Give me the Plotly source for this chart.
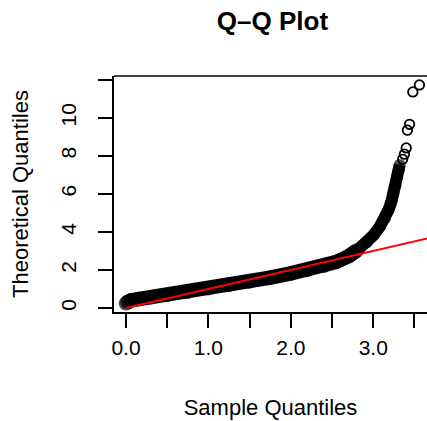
import plotly.graph_objects as go

# ---- data ----
# dense part of the Q-Q point cloud (sample quantile, theoretical quantile)
band_sample = [0.00, 0.02, 0.06, 0.15, 0.30, 0.50, 0.75, 1.00, 1.25, 1.50, 1.75, 2.00,
               2.20, 2.40, 2.55, 2.70, 2.80, 2.92, 3.00, 3.08, 3.14, 3.185, 3.22, 3.245,
               3.27, 3.29, 3.31, 3.32]
band_theoretical = [0.25, 0.32, 0.40, 0.47, 0.56, 0.69, 0.86, 1.04, 1.22, 1.40, 1.60, 1.82,
                    2.00, 2.22, 2.42, 2.72, 3.02, 3.45, 3.82, 4.28, 4.70, 5.16, 5.60, 6.03,
                    6.45, 6.90, 7.25, 7.52]
# sparse upper tail points
tail_sample = [3.357, 3.378, 3.40, 3.414, 3.44, 3.48, 3.56]
tail_theoretical = [7.82, 8.09, 8.42, 9.35, 9.66, 11.36, 11.73]

# reference line (qqline)
qq_intercept = 0.0
qq_slope = 1.0

x_tick_values = [0.0, 0.5, 1.0, 1.5, 2.0, 2.5, 3.0, 3.5]
x_tick_labels = ["0.0", "", "1.0", "", "2.0", "", "3.0", ""]
y_tick_values = [0, 2, 4, 6, 8, 10, 12]
y_tick_labels = ["0", "2", "4", "6", "8", "10", ""]

X_RANGE = [-0.1455, 3.652]
Y_RANGE = [-0.21, 12.2]

fig = go.Figure()

# dense band: thick strokes, thinner where the curve turns steep
split = 16  # index where the steep part begins
segments = [(0, split + 1, 14.5), (split, len(band_sample), 12)]
for a, b, w in segments:
    fig.add_trace(go.Scatter(
        x=band_sample[a:b], y=band_theoretical[a:b], mode="lines",
        line=dict(color="black", width=w), hoverinfo="skip", showlegend=False))
sizes = [14.5 if i <= split else 12 for i in range(len(band_sample))]
fig.add_trace(go.Scatter(
    x=band_sample, y=band_theoretical, mode="markers",
    marker=dict(color="black", size=sizes, line=dict(width=0)),
    showlegend=False))

# sparse tail: open circles
fig.add_trace(go.Scatter(
    x=tail_sample, y=tail_theoretical, mode="markers",
    marker=dict(symbol="circle-open", color="black", size=9.5, line=dict(width=1.8)),
    showlegend=False))

# qq line
line_x = [band_sample[0], X_RANGE[1] + 0.2]
line_y = [qq_intercept + qq_slope * v for v in line_x]
fig.add_trace(go.Scatter(
    x=line_x, y=line_y, mode="lines",
    line=dict(color="#ff0000", width=2), showlegend=False))

axis_common = dict(showgrid=False, zeroline=False, showline=True, linecolor="black",
                   linewidth=1.6, ticks="outside", ticklen=14, tickwidth=1.5,
                   tickcolor="black", tickfont=dict(size=21, color="black"))

fig.update_xaxes(range=X_RANGE, tickmode="array", tickvals=x_tick_values,
                 ticktext=x_tick_labels, ticklabelstandoff=2,
                 title=dict(text="Sample Quantiles", font=dict(size=22), standoff=42),
                 **axis_common)
fig.update_yaxes(range=Y_RANGE, tickmode="array", tickvals=y_tick_values,
                 ticktext=y_tick_labels, tickangle=-90, ticklabelstandoff=14,
                 title=dict(text="Theoretical Quantiles", font=dict(size=22), standoff=22),
                 **axis_common)

# top border of the plotting box
fig.add_shape(type="line", xref="paper", yref="paper", x0=0, x1=1, y0=1, y1=1,
              line=dict(color="black", width=1.6))

fig.update_layout(
    width=427, height=421,
    margin=dict(l=114, r=0, t=76, b=109, autoexpand=False),
    paper_bgcolor="white", plot_bgcolor="white",
    font=dict(family="Liberation Sans, Arial, sans-serif", color="black"),
    title=dict(text="<b>Q\u2013Q Plot</b>", x=0.638, xanchor="center",
               y=0.951, yanchor="middle", font=dict(size=26, color="black")),
    showlegend=False,
)

fig.write_html("out.html")
